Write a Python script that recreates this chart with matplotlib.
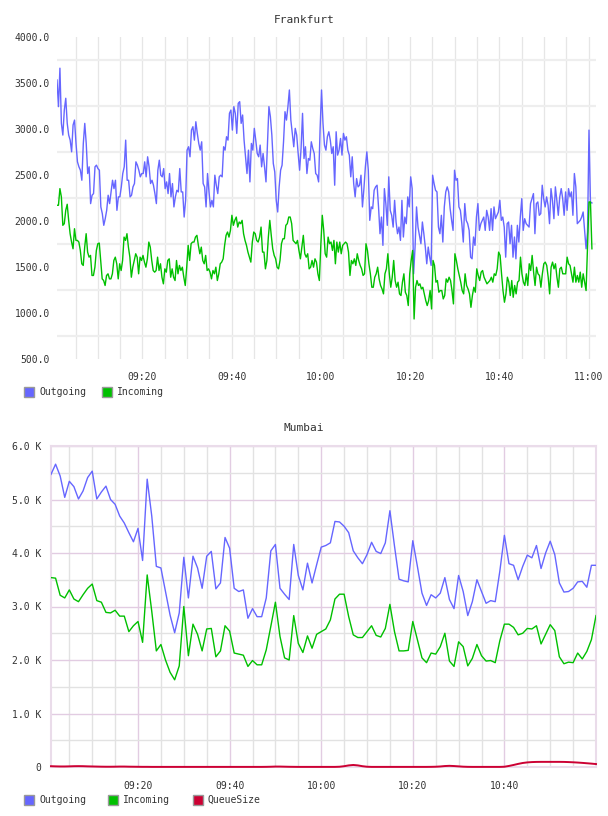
import numpy as np
import pandas as pd
import matplotlib
matplotlib.use('Agg')
import matplotlib.pyplot as plt
import matplotlib.dates as mdates
from matplotlib.patches import Rectangle
from matplotlib.ticker import FixedLocator

# ---------------- data ----------------
DAY = '2014-01-01 '
fra_start, fra_end = '09:00:50', '11:00:45'
fra_tick_labels = ['09:20', '09:40', '10:00', '10:20', '10:40', '11:00']
fra_yticks = [500, 1000, 1500, 2000, 2500, 3000, 3500, 4000]

fra_out = [3533,3243,3661,3061,2934,3206,3334,3061,2934,2879,2752,3043,3097,2843,2643,2589,2552,2443,2843,3061,2843,2516,2589,2189,2280,2298,2589,2607,2570,2552,2153,2080,1953,2025,2116,2280,2189,2316,2443,2352,2443,2116,2262,2262,2371,2516,2589,2879,2443,2443,2262,2280,2371,2407,2643,2607,2552,2480,2516,2516,2643,2480,2698,2589,2407,2443,2389,2298,2189,2552,2661,2498,2480,2570,2352,2425,2298,2516,2262,2407,2153,2262,2334,2316,2570,2316,2316,2043,2225,2770,2807,2698,2988,3025,2879,3079,2952,2843,2770,2861,2407,2371,2153,2516,2316,2153,2225,2153,2498,2389,2298,2480,2498,2480,2807,2770,2916,2879,3170,3206,2988,3243,3170,2952,3279,
           3297,3061,3152,2879,2698,2516,2770,2425,2843,2770,3007,2879,2734,2698,2825,2589,2734,2589,2425,2843,3243,3134,2934,2625,2534,2225,2098,2371,2552,2607,2861,3188,3097,3243,3424,3097,2952,2807,3007,2934,2734,2552,2788,3170,2679,2807,2516,2679,2661,2861,2788,2734,2516,2498,2425,2988,3424,3061,2825,2770,2916,2970,2879,2734,2807,2389,2970,2716,2770,2897,2716,2952,2879,2916,2770,2716,2480,2698,2407,2262,2461,2371,2389,2498,2153,2352,2589,2752,2552,2007,2153,2134,2334,2371,2389,2153,1862,2043,1735,2352,2189,1953,2480,2116,2062,1934,2225,1989,1862,1934,1789,2225,1826,2043,1971,2262,2153,2480,2352,1426,1717,2153,1934,1844,1753,1989,1862,1717,1535,1717,
           1607,1517,2498,2407,2334,2316,1934,1862,2062,1771,2153,2316,2371,2316,2134,2007,1898,2552,2443,2461,2153,2116,1971,1771,2189,2007,1971,1898,1607,1589,1826,1735,2043,2189,1898,1971,2007,2043,1898,2116,2043,1898,2134,1898,2153,2025,2062,2098,2225,2007,2043,1934,1607,1971,1989,1753,1953,1607,1826,1589,1953,1771,2043,2243,1898,2025,1971,1953,1934,2189,2243,2298,1862,2189,2207,2062,2080,2389,2243,2153,2262,2171,1971,2352,2225,2025,2371,2225,2062,2262,2352,2243,2062,2316,2116,2352,2262,2316,2062,2516,2371,1971,1989,2007,2043,2098,1898,1698,1880,2988,2207,2196]

fra_in = [2171,2171,2352,2262,1953,1971,2116,2182,2007,1862,1771,1698,1916,1789,1789,1771,1680,1535,1517,1716,1862,1662,1607,1626,1408,1408,1498,1680,1753,1760,1571,1371,1353,1299,1408,1426,1371,1371,1426,1571,1607,1535,1371,1535,1462,1571,1825,1789,1862,1716,1607,1389,1498,1571,1644,1607,1426,1607,1571,1626,1553,1498,1589,1771,1716,1571,1462,1444,1462,1607,1462,1535,1389,1317,1480,1444,1571,1589,1389,1480,1389,1353,1571,1426,1517,1462,1498,1389,1299,1498,1735,1571,1753,1771,1771,1825,1844,1735,1644,1716,1571,1535,1626,1462,1480,1444,1371,1462,1426,1498,1353,1426,1535,1553,1589,1735,1844,1880,1825,1898,2062,1953,2007,2043,1934,1989,
          1971,2007,1862,1789,1735,1662,1607,1553,1771,1880,1862,1789,1771,1825,1934,1662,1662,1480,1571,1825,2007,1844,1698,1626,1589,1498,1480,1571,1753,1807,1807,1953,1971,2043,2043,1971,1789,1771,1753,1789,1680,1589,1716,1844,1644,1607,1644,1480,1498,1571,1498,1589,1553,1426,1353,1735,2062,1898,1644,1607,1825,1753,1771,1680,1789,1535,1771,1662,1771,1644,1735,1753,1771,1753,1662,1408,1571,1535,1589,1517,1644,1571,1517,1480,1408,1426,1753,1680,1535,1426,1280,1280,1389,1426,1498,1371,1299,1262,1208,1426,1480,1644,1426,1280,1389,1571,1353,1280,1335,1208,1190,1335,1426,1226,1190,1081,1426,1571,1680,935,1280,1353,1299,1317,1262,1280,1208,1135,1081,1135,
          1244,1044,1571,1517,1335,1353,1226,1244,1244,1153,1190,1371,1335,1389,1353,1244,1099,1644,1571,1480,1408,1335,1244,1208,1426,1299,1262,1208,1062,1190,1280,1226,1480,1408,1353,1444,1462,1389,1353,1317,1335,1353,1389,1335,1426,1408,1480,1662,1626,1426,1244,1117,1208,1389,1335,1190,1353,1171,1299,1208,1335,1353,1607,1426,1335,1299,1426,1299,1535,1462,1626,1444,1299,1498,1426,1408,1280,1426,1535,1553,1517,1389,1208,1498,1553,1480,1535,1389,1280,1480,1498,1426,1426,1426,1607,1535,1517,1426,1335,1498,1335,1408,1335,1444,1280,1426,1335,1244,1716,2207,2207,1698]

# Mumbai: one sample per minute from 09:01, values in thousands (K)
mum_start = '09:01'
mum_tick_labels = ['09:20', '09:40', '10:00', '10:20', '10:40']
mum_yticks = [0, 1, 2, 3, 4, 5, 6]

mum_out = [5.47,5.66,5.44,5.04,5.34,5.24,5.01,5.16,5.41,5.53,5.01,5.14,5.25,5.00,4.91,4.69,4.56,4.38,4.21,4.46,
           3.86,5.38,4.69,3.75,3.72,3.28,2.84,2.51,2.88,3.92,3.16,3.94,3.72,3.34,3.94,4.03,3.33,3.44,4.29,4.09,
           3.34,3.28,3.31,2.78,2.96,2.81,2.81,3.16,4.04,4.16,3.34,3.23,3.13,4.16,3.58,3.31,3.81,3.44,3.78,4.11,
           4.14,4.19,4.59,4.58,4.50,4.38,4.04,3.91,3.80,3.97,4.20,4.03,3.99,4.19,4.79,4.13,3.51,3.48,3.46,4.23,
           3.75,3.25,3.02,3.22,3.16,3.25,3.54,3.13,2.96,3.58,3.28,2.83,3.09,3.50,3.28,3.06,3.11,3.09,3.66,4.33,
           3.80,3.77,3.50,3.75,3.96,3.91,4.14,3.71,4.00,4.22,3.97,3.44,3.27,3.28,3.34,3.46,3.47,3.36,3.77,3.77]

mum_in = [3.54,3.53,3.21,3.16,3.31,3.14,3.09,3.22,3.34,3.42,3.11,3.08,2.89,2.88,2.93,2.82,2.82,2.53,2.64,2.72,
          2.33,3.59,2.91,2.17,2.29,2.00,1.77,1.63,1.89,3.00,2.08,2.67,2.48,2.17,2.58,2.59,2.06,2.17,2.64,2.54,
          2.13,2.11,2.09,1.88,1.99,1.91,1.91,2.19,2.63,3.08,2.44,2.04,2.00,2.83,2.31,2.14,2.45,2.22,2.48,2.53,
          2.58,2.75,3.14,3.23,3.23,2.81,2.47,2.42,2.42,2.53,2.64,2.46,2.43,2.59,3.04,2.53,2.17,2.17,2.18,2.72,
          2.38,2.04,1.95,2.13,2.11,2.25,2.50,1.98,1.88,2.34,2.25,1.89,2.03,2.29,2.08,1.98,1.99,1.95,2.36,2.67,
          2.67,2.61,2.47,2.50,2.59,2.58,2.64,2.30,2.48,2.66,2.55,2.06,1.93,1.96,1.95,2.13,2.02,2.16,2.38,2.83]

mum_queue = [0.015,0.012,0.010,0.010,0.012,0.015,0.016,0.015,0.012,0.010,0.008,0.006,0.005,0.005,0.006,0.008,0.008,0.006,0.005,0.004,
             0.003,0.003,0.002,0.002,0.002,0.002,0.002,0.002,0.002,0.002,0.002,0.002,0.002,0.002,0.002,0.002,0.002,0.002,0.002,0.002,
             0.002,0.002,0.002,0.002,0.002,0.002,0.002,0.003,0.005,0.008,0.008,0.006,0.004,0.003,0.002,0.002,0.002,0.002,0.002,0.002,
             0.002,0.002,0.002,0.005,0.015,0.030,0.038,0.030,0.015,0.005,0.002,0.002,0.002,0.002,0.002,0.002,0.002,0.002,0.002,0.002,
             0.002,0.002,0.002,0.003,0.005,0.010,0.018,0.022,0.018,0.012,0.006,0.003,0.002,0.002,0.002,0.002,0.002,0.002,0.002,0.005,
             0.020,0.038,0.058,0.075,0.086,0.092,0.095,0.096,0.096,0.096,0.096,0.096,0.095,0.092,0.088,0.083,0.077,0.070,0.063,0.055]

# ---------------- style ----------------
W, H = 608, 816
FONT = 'DejaVu Sans Mono'
TXT = '#333333'
C_OUT, C_IN, C_Q = '#6666ff', '#00c000', '#cc0033'
plt.rcParams['font.family'] = [FONT]

fig = plt.figure(figsize=(W / 100, H / 100), dpi=100)


def axes_px(l, t, r, b):
    return fig.add_axes([l / W, 1 - b / H, (r - l) / W, (b - t) / H])


def legend_px(items, y):
    for x, color, label in items:
        fig.add_artist(Rectangle((x / W, 1 - (y + 5) / H), 10 / W, 10 / H,
                                 transform=fig.transFigure, facecolor=color,
                                 edgecolor='#999999', linewidth=1.0))
        fig.text((x + 15) / W, 1 - y / H, label, fontsize=7, color=TXT,
                 va='center', ha='left', family=FONT)


def ts(s):
    return pd.Timestamp(DAY + s)

# ---------------- Frankfurt ----------------
ax1 = axes_px(57, 37, 596, 359)
t_out = pd.date_range(ts(fra_start), ts(fra_end), periods=len(fra_out))
t_in = pd.date_range(ts(fra_start), ts(fra_end), periods=len(fra_in))
ax1.plot(t_out, fra_out, color=C_OUT, lw=1.0, zorder=3)
ax1.plot(t_in, fra_in, color=C_IN, lw=1.0, zorder=3)
ax1.set_xlim(ts(fra_start), ts('11:01:40'))
ax1.set_ylim(500, 4000)
ax1.set_yticks(fra_yticks)
ax1.set_yticklabels(['%.1f' % v for v in fra_yticks])
ax1.yaxis.set_minor_locator(FixedLocator([v + 250 for v in fra_yticks[:-1]]))
ax1.set_xticks([mdates.date2num(ts(s)) for s in fra_tick_labels])
ax1.set_xticklabels(fra_tick_labels)
ax1.xaxis.set_minor_locator(mdates.MinuteLocator(byminute=range(0, 60, 5)))
ax1.grid(False)
ax1.yaxis.grid(True, which='minor', color='#eeeeee', lw=1.6)
ax1.xaxis.grid(True, which='both', color='#e6e6e6', lw=0.9)
ax1.set_axisbelow(True)
for s in ax1.spines.values():
    s.set_visible(False)
ax1.tick_params(which='both', length=0, labelsize=7, labelcolor=TXT)
ax1.tick_params(axis='y', pad=5)
ax1.tick_params(axis='x', pad=9)
fig.text(0.5, 1 - 20 / H, 'Frankfurt', ha='center', va='center', fontsize=8, color=TXT)
legend_px([(24, C_OUT, 'Outgoing'), (102, C_IN, 'Incoming')], 392)

# ---------------- Mumbai ----------------
ax2 = axes_px(51, 446, 596, 767)
tm = pd.date_range(ts(mum_start), periods=len(mum_out), freq='1min')
ax2.plot(tm, mum_out, color=C_OUT, lw=1.0, zorder=3)
ax2.plot(tm, mum_in, color=C_IN, lw=1.0, zorder=3)
ax2.plot(tm, mum_queue, color=C_Q, lw=1.4, zorder=4, clip_on=False)
ax2.set_xlim(tm[0], tm[-1])
ax2.set_ylim(0, 6)
ax2.set_yticks(mum_yticks)
ax2.set_yticklabels(['0' if v == 0 else '%.1f K' % v for v in mum_yticks])
ax2.yaxis.set_minor_locator(FixedLocator([v + 0.5 for v in mum_yticks[:-1]]))
ax2.set_xticks([mdates.date2num(ts(s)) for s in mum_tick_labels])
ax2.set_xticklabels(mum_tick_labels)
ax2.xaxis.set_minor_locator(mdates.MinuteLocator(byminute=range(0, 60, 5)))
ax2.grid(True, which='major', color='#e2cce2', lw=1.0)
ax2.grid(True, which='minor', color='#e2e2e2', lw=1.0)
ax2.set_axisbelow(True)
for s in ax2.spines.values():
    s.set_color('#eadcea')
    s.set_linewidth(1.5)
    s.set_zorder(2)
ax2.tick_params(which='both', length=0, labelsize=7, labelcolor=TXT)
ax2.tick_params(axis='y', pad=7)
ax2.tick_params(axis='x', pad=10)
fig.text(0.5, 1 - 428 / H, 'Mumbai', ha='center', va='center', fontsize=8, color=TXT)
legend_px([(24, C_OUT, 'Outgoing'), (108, C_IN, 'Incoming'), (193, C_Q, 'QueueSize')], 800)

fig.savefig('out.png', dpi=100, facecolor='white')
